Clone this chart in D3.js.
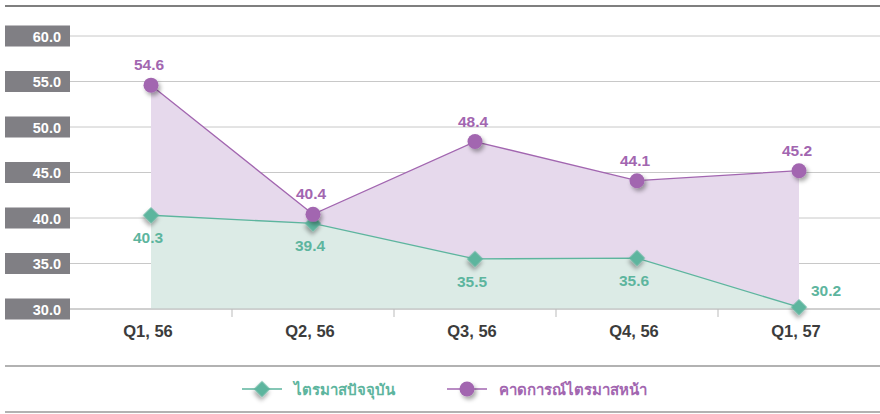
<!DOCTYPE html>
<html>
<head>
<meta charset="utf-8">
<script src="https://cdn.jsdelivr.net/npm/d3@7"></script>
<style>
  body { margin: 0; background: #fff; }
  text { font-family: "Liberation Sans", Arial, sans-serif; }
</style>
</head>
<body>
<div id="chart"></div>
<script>
var categories = ["Q1, 56", "Q2, 56", "Q3, 56", "Q4, 56", "Q1, 57"];
var current = [40.3, 39.4, 35.5, 35.6, 30.2];   // ไตรมาสปัจจุบัน
var forecast = [54.6, 40.4, 48.4, 44.1, 45.2];  // คาดการณ์ไตรมาสหน้า
var yTicks = [30, 35, 40, 45, 50, 55, 60];
var seriesNames = ["ไตรมาสปัจจุบัน", "คาดการณ์ไตรมาสหน้า"];

var width = 880, height = 414;
var plot = { left: 70, right: 880, top: 36, bottom: 309 };

var green = "#5db59e", purple = "#a266b0";

var svg = d3.select("#chart").append("svg")
    .attr("width", width)
    .attr("height", height);

var defs = svg.append("defs");
var f = defs.append("filter").attr("id", "shadow")
    .attr("x", "-60%").attr("y", "-60%").attr("width", "240%").attr("height", "240%");
f.append("feDropShadow").attr("dx", 2).attr("dy", 3).attr("stdDeviation", 2.2)
    .attr("flood-color", "#000").attr("flood-opacity", 0.35);

var x = d3.scaleBand().domain(categories).range([plot.left, plot.right]);
var y = d3.scaleLinear().domain([30, 60]).range([plot.bottom, plot.top]);
var cx = function (i) { return x(categories[i]) + x.bandwidth() / 2; };

// top rule and legend rules
svg.append("line").attr("x1", 5).attr("x2", 880).attr("y1", 6).attr("y2", 6)
    .attr("stroke", "#555").attr("stroke-width", 1.5);
[366, 412].forEach(function (yy) {
  svg.append("line").attr("x1", 5).attr("x2", 880).attr("y1", yy).attr("y2", yy)
      .attr("stroke", "#999").attr("stroke-width", 1.5);
});

// gridlines
svg.append("g").selectAll("line").data(yTicks).join("line")
    .attr("x1", plot.left).attr("x2", plot.right)
    .attr("y1", d => y(d)).attr("y2", d => y(d))
    .attr("stroke", "#c8c8c8").attr("stroke-width", 1);

// areas
var area = function (vals) {
  return d3.area()
      .x((d, i) => cx(i))
      .y0(y(30))
      .y1(d => y(d))(vals);
};
svg.append("path").attr("d", area(forecast)).attr("fill", "#e6d9ec");
svg.append("path").attr("d", area(current)).attr("fill", "#dcebe6");

// x axis
var xAxis = svg.append("g").attr("transform", "translate(0," + plot.bottom + ")");
xAxis.append("line").attr("x1", plot.left).attr("x2", plot.right)
    .attr("stroke", "#bbb").attr("stroke-width", 1.2);
xAxis.selectAll(".tk").data(categories.slice(1)).join("line")
    .attr("x1", d => x(d)).attr("x2", d => x(d))
    .attr("y1", 0).attr("y2", 8)
    .attr("stroke", "#bbb");
xAxis.selectAll("text").data(categories).join("text")
    .attr("x", d => x(d) + x.bandwidth() / 2 - 3)
    .attr("y", 28)
    .attr("text-anchor", "middle")
    .attr("font-size", 16.5).attr("font-weight", "bold")
    .attr("fill", "#3c3c3c")
    .text(d => d);

// y axis label boxes
var yl = svg.append("g").selectAll("g").data(yTicks).join("g")
    .attr("transform", d => "translate(0," + y(d) + ")");
yl.append("rect").attr("x", 5).attr("y", -10.5).attr("width", 65).attr("height", 21)
    .attr("fill", "#807f84");
yl.append("text").attr("x", 61).attr("y", 5.5).attr("text-anchor", "end")
    .attr("font-size", 14.5).attr("font-weight", "bold").attr("fill", "#fff")
    .text(d => d.toFixed(1));

// lines
var line = d3.line().x((d, i) => cx(i)).y(d => y(d));
svg.append("path").attr("d", line(forecast)).attr("fill", "none")
    .attr("stroke", purple).attr("stroke-width", 1.3);
svg.append("path").attr("d", line(current)).attr("fill", "none")
    .attr("stroke", green).attr("stroke-width", 1.3);

// markers
var diamond = d3.symbol().type(d3.symbolSquare).size(130);
svg.append("g").selectAll("path").data(current).join("path")
    .attr("d", diamond)
    .attr("transform", (d, i) => "translate(" + cx(i) + "," + y(d) + ") rotate(45)")
    .attr("fill", green).attr("filter", "url(#shadow)");
svg.append("g").selectAll("circle").data(forecast).join("circle")
    .attr("cx", (d, i) => cx(i)).attr("cy", d => y(d)).attr("r", 7.5)
    .attr("fill", purple).attr("filter", "url(#shadow)");

// value labels
svg.append("g").selectAll("text").data(forecast).join("text")
    .attr("x", (d, i) => cx(i) - 2).attr("y", d => y(d) - 15)
    .attr("text-anchor", "middle")
    .attr("font-size", 15.5).attr("font-weight", "bold").attr("fill", purple)
    .text(d => d.toFixed(1));
svg.append("g").selectAll("text").data(current).join("text")
    .attr("x", (d, i) => i == current.length - 1 ? cx(i) + 27 : cx(i) - 3)
    .attr("y", (d, i) => i == current.length - 1 ? y(d) - 11 : y(d) + 28)
    .attr("text-anchor", "middle")
    .attr("font-size", 15.5).attr("font-weight", "bold").attr("fill", green)
    .text(d => d.toFixed(1));

// legend
var legend = [
  { name: seriesNames[0], color: green, shape: "diamond", x: 242 },
  { name: seriesNames[1], color: purple, shape: "circle", x: 447 }
];
var lg = svg.append("g").selectAll("g").data(legend).join("g")
    .attr("transform", d => "translate(" + d.x + ",389)");
lg.append("line").attr("x1", 0).attr("x2", 40).attr("stroke", d => d.color).attr("stroke-width", 1.3);
lg.filter(d => d.shape == "diamond").append("path")
    .attr("d", diamond).attr("transform", "translate(20,0) rotate(45)")
    .attr("fill", d => d.color).attr("filter", "url(#shadow)");
lg.filter(d => d.shape == "circle").append("circle")
    .attr("cx", 20).attr("r", 7.5)
    .attr("fill", d => d.color).attr("filter", "url(#shadow)");
lg.append("text").attr("x", 52).attr("y", 6)
    .attr("font-family", "'Noto Sans', 'DejaVu Sans', sans-serif")
    .attr("font-size", 15).attr("font-weight", "bold")
    .attr("fill", d => d.color)
    .text(d => d.name);
</script>
</body>
</html>
